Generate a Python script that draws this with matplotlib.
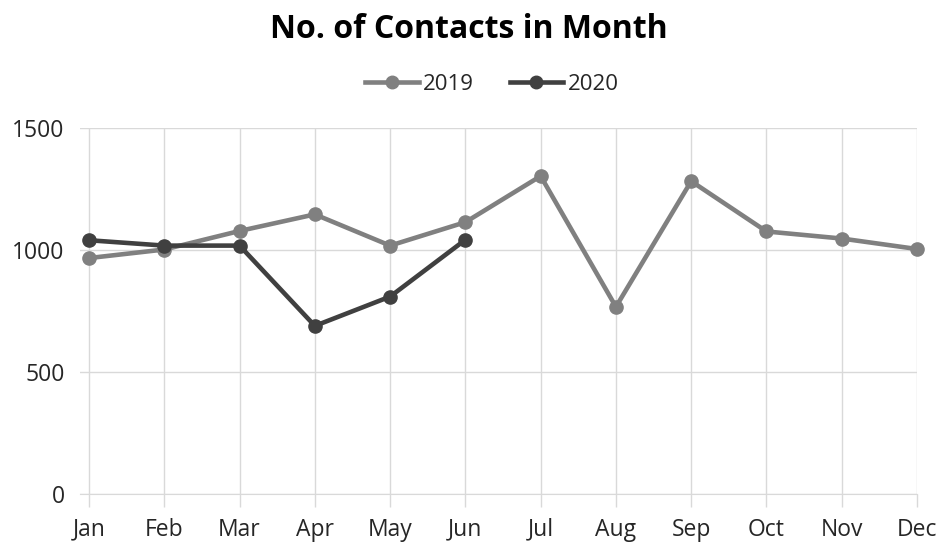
import matplotlib.pyplot as plt
from matplotlib.lines import Line2D

plt.rcParams['font.family'] = ['Open Sans', 'DejaVu Sans']

months = ['Jan', 'Feb', 'Mar', 'Apr', 'May', 'Jun',
          'Jul', 'Aug', 'Sep', 'Oct', 'Nov', 'Dec']
contacts_2019 = [967, 1002, 1078, 1146, 1018, 1114, 1303, 767, 1282, 1076, 1047, 1004]
contacts_2020 = [1040, 1018, 1018, 689, 809, 1042]
y_ticks = [0, 500, 1000, 1500]

grey = '#808080'
dark = '#404040'
grid_col = '#D9D9D9'
text_col = '#262626'

fig = plt.figure(figsize=(9.38, 5.42), dpi=100)
ax = fig.add_axes([80 / 938, 1 - 494 / 542, (917 - 80) / 938, (494 - 128) / 542])

x19 = list(range(len(contacts_2019)))
x20 = list(range(len(contacts_2020)))
ax.plot(x19, contacts_2019, color=grey, lw=3.3, marker='o', ms=9.5, zorder=3,
        solid_capstyle='round', clip_on=False)
ax.plot(x20, contacts_2020, color=dark, lw=3.3, marker='o', ms=9.5, zorder=4,
        solid_capstyle='round', clip_on=False)

ax.set_xlim(-0.12, 11)
ax.set_ylim(0, 1500)
ax.set_yticks(y_ticks)
ax.set_xticks(x19)
ax.set_xticklabels(months)

ax.grid(True, color=grid_col, lw=1)
ax.set_axisbelow(True)
for s in ax.spines.values():
    s.set_visible(False)
ax.spines['bottom'].set_visible(True)
ax.spines['bottom'].set_color(grid_col)

ax.tick_params(axis='y', length=0, pad=11, labelsize=16.5, labelcolor=text_col)
ax.tick_params(axis='x', length=9, width=1, color=grid_col, pad=8,
               labelsize=16.5, labelcolor=text_col)

fig.text(0.5, 1 - 30 / 542, 'No. of Contacts in Month', ha='center', va='center',
         fontsize=23, fontweight='bold', color='black')

handles = [Line2D([], [], color=grey, lw=3.3, marker='o', ms=9),
           Line2D([], [], color=dark, lw=3.3, marker='o', ms=9)]
fig.legend(handles, ['2019', '2020'], loc='center',
           bbox_to_anchor=(492 / 938, 1 - 84 / 542),
           ncol=2, frameon=False, fontsize=16, handlelength=2.4, handletextpad=0.2,
           columnspacing=1.6, labelcolor=text_col)

fig.savefig('out.png', dpi=100)
